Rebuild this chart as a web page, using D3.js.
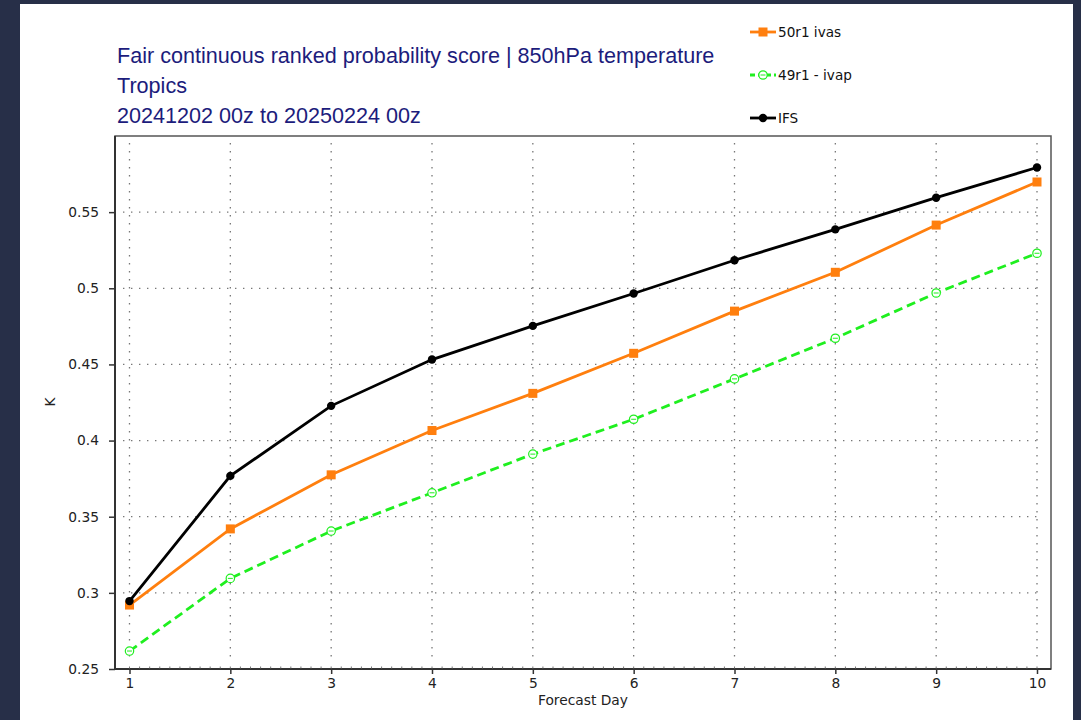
<!DOCTYPE html>
<html>
<head>
<meta charset="utf-8">
<script src="https://cdn.jsdelivr.net/npm/d3@7"></script>
<style>
  body { margin: 0; background: #272f48; }
  svg { display: block; }
</style>
</head>
<body>
<div id="chart"></div>
<script>
const days = [1, 2, 3, 4, 5, 6, 7, 8, 9, 10];
const ivas50r1 = [0.292, 0.342, 0.3775, 0.4066, 0.431, 0.4573, 0.485, 0.5105, 0.5415, 0.5698];
const ivap49r1 = [0.2618, 0.3095, 0.3406, 0.3657, 0.3911, 0.414, 0.4405, 0.4672, 0.4969, 0.523];
const ifs = [0.2946, 0.3768, 0.4228, 0.4532, 0.4753, 0.4966, 0.5184, 0.5387, 0.5595, 0.5793];
const yTicks = [0.25, 0.3, 0.35, 0.4, 0.45, 0.5, 0.55];
const titleLines = [
  "Fair continuous ranked probability score | 850hPa temperature",
  "Tropics",
  "20241202 00z to 20250224 00z"
];

const series = [
  { name: "50r1 ivas", values: ivas50r1, color: "#ff7f0e", dash: null, marker: "square" },
  { name: "49r1 - ivap", values: ivap49r1, color: "#1fef1f", dash: "9,5", marker: "open" },
  { name: "IFS", values: ifs, color: "#000000", dash: null, marker: "dot" }
];

const W = 1081, H = 720;
const svg = d3.select("#chart").append("svg")
  .attr("width", W)
  .attr("height", H);

// white page
svg.append("rect")
  .attr("x", 20).attr("y", 4)
  .attr("width", 1053).attr("height", 730)
  .attr("fill", "#ffffff");

const pLeft = 115, pRight = 1051, pTop = 136, pBottom = 669;

const x = d3.scaleLinear().domain([1, 10]).range([129.5, 1037]);
const y = d3.scaleLinear().domain([0.25, 0.6]).range([pBottom, pTop]);

// grid
const grid = svg.append("g")
  .attr("stroke", "#777")
  .attr("stroke-width", 1.3)
  .attr("stroke-dasharray", "1.4,6.6");
grid.selectAll(".vg").data(days).enter().append("line")
  .attr("x1", d => x(d)).attr("x2", d => x(d))
  .attr("y1", pTop + 7).attr("y2", pBottom - 7);
grid.selectAll(".hg").data(yTicks.slice(1)).enter().append("line")
  .attr("x1", pLeft + 8).attr("x2", pRight - 8)
  .attr("y1", d => y(d)).attr("y2", d => y(d));

// frame
svg.append("rect")
  .attr("x", pLeft).attr("y", pTop)
  .attr("width", pRight - pLeft).attr("height", pBottom - pTop)
  .attr("fill", "none")
  .attr("stroke", "#555")
  .attr("stroke-width", 1.5);

// axes
const xAxis = d3.axisBottom(x).tickValues(days).tickSize(5).tickPadding(4).tickFormat(d3.format("d"));
const gx = svg.append("g").attr("transform", `translate(0,${pBottom})`).call(xAxis);
gx.select(".domain").attr("d", `M${pLeft},0H${pRight}`).attr("stroke", "#333").attr("stroke-width", 2);

const yAxis = d3.axisLeft(y).tickValues(yTicks).tickSize(6).tickPadding(10).tickFormat(d => String(d));
const gy = svg.append("g").attr("transform", `translate(${pLeft},0)`).call(yAxis);
gy.select(".domain").attr("d", `M0,${pTop}V${pBottom}`).attr("stroke", "#333").attr("stroke-width", 2);

svg.selectAll(".tick line").attr("stroke", "#333").attr("stroke-width", 1.5);
svg.selectAll(".tick text")
  .attr("font-family", "DejaVu Sans")
  .attr("font-size", 13.8)
  .attr("fill", "#222");

// minor ticks on x axis
const minor = d3.range(10, 101).map(d => d / 10).filter(d => x(d) > pLeft && x(d) < pRight);
svg.append("g").selectAll("line").data(minor).enter().append("line")
  .attr("x1", d => x(d)).attr("x2", d => x(d))
  .attr("y1", pBottom).attr("y2", pBottom - 2.5)
  .attr("stroke", "#555").attr("stroke-width", 0.8);

// axis titles
svg.append("text")
  .attr("x", 583).attr("y", 705)
  .attr("text-anchor", "middle")
  .attr("font-family", "DejaVu Sans").attr("font-size", 13.8).attr("fill", "#222")
  .text("Forecast Day");
svg.append("text")
  .attr("transform", "translate(55,402) rotate(-90)")
  .attr("text-anchor", "middle")
  .attr("font-family", "DejaVu Sans").attr("font-size", 13.8).attr("fill", "#222")
  .text("K");

// title
svg.append("g").selectAll("text").data(titleLines).enter().append("text")
  .attr("x", 117)
  .attr("y", (d, i) => 63 + i * 30)
  .attr("font-family", "Liberation Sans")
  .attr("font-size", 21.6)
  .attr("fill", "#1c1c7c")
  .text(d => d);

// lines
const line = d3.line().x((d, i) => x(days[i])).y(d => y(d));

function drawMarker(g, s, cx, cy) {
  if (s.marker === "square") {
    g.append("rect").attr("x", cx - 4.5).attr("y", cy - 4.5).attr("width", 9).attr("height", 9).attr("fill", s.color);
  } else if (s.marker === "dot") {
    g.append("circle").attr("cx", cx).attr("cy", cy).attr("r", 4.2).attr("fill", s.color);
  } else {
    g.append("circle").attr("cx", cx).attr("cy", cy).attr("r", 4.2).attr("fill", "#fff").attr("stroke", s.color).attr("stroke-width", 1.2);
    g.append("line").attr("x1", cx - 2.5).attr("x2", cx + 2.5).attr("y1", cy).attr("y2", cy).attr("stroke", s.color).attr("stroke-width", 1);
  }
}

const plot = svg.append("g");
[series[1], series[0], series[2]].forEach(s => {
  plot.append("path")
    .datum(s.values)
    .attr("d", line)
    .attr("fill", "none")
    .attr("stroke", s.color)
    .attr("stroke-width", 2.8)
    .attr("stroke-dasharray", s.dash);
  s.values.forEach((v, i) => drawMarker(plot, s, x(days[i]), y(v)));
});

// legend
const legend = svg.append("g");
series.forEach((s, i) => {
  const ly = 32 + i * 43;
  legend.append("line")
    .attr("x1", 750).attr("x2", 776)
    .attr("y1", ly).attr("y2", ly)
    .attr("stroke", s.color)
    .attr("stroke-width", 2.8)
    .attr("stroke-dasharray", s.dash ? "5,3" : null);
  drawMarker(legend, s, 763, ly);
  legend.append("text")
    .attr("x", 778).attr("y", ly + 4.5)
    .attr("font-family", "DejaVu Sans").attr("font-size", 13.6).attr("fill", "#111")
    .text(s.name);
});
</script>
</body>
</html>
